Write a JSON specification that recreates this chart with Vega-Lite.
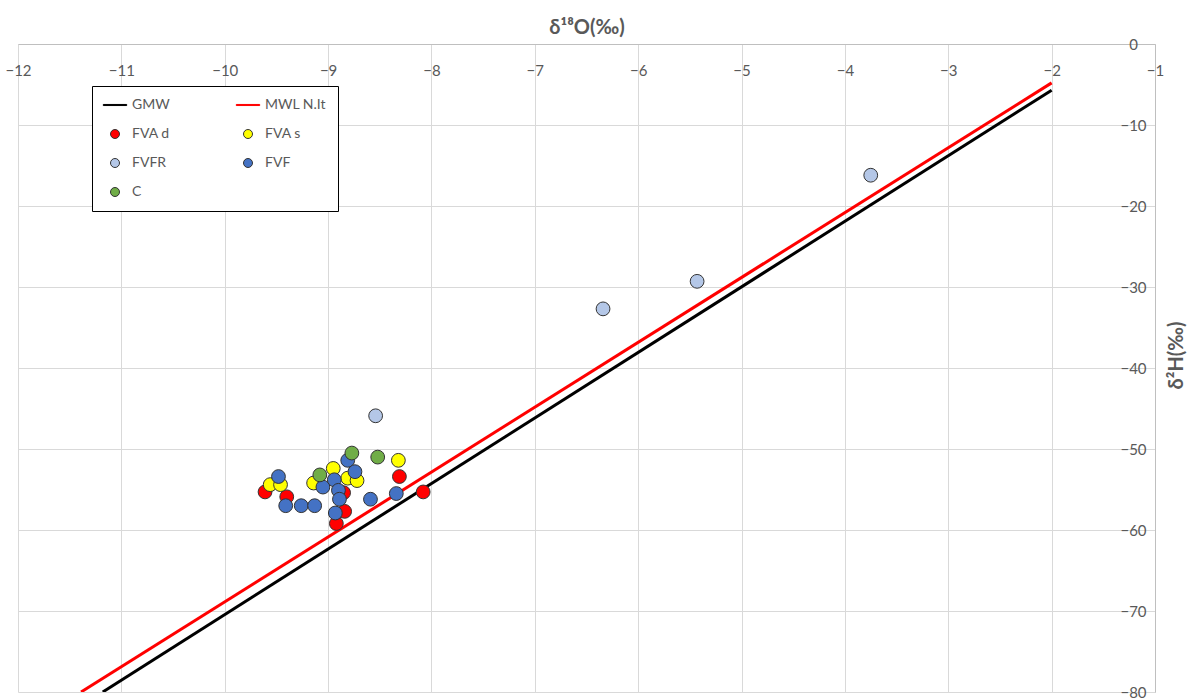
{
  "$schema": "https://vega.github.io/schema/vega-lite/v6.json",
  "width": 1137,
  "height": 648,
  "autosize": {"type": "none"},
  "padding": {"left": 18, "top": 44, "right": 33, "bottom": 7},
  "background": "white",
  "config": {
    "view": {"stroke": null},
    "font": "Lato",
    "axis": {
      "gridColor": "#D9D9D9",
      "gridWidth": 1,
      "domainColor": "#BFBFBF",
      "domainWidth": 1,
      "labelColor": "#595959",
      "labelFont": "Lato",
      "labelFontSize": 15,
      "titleColor": "#595959",
      "titleFont": "Lato",
      "titleFontSize": 20,
      "titleFontWeight": "bold",
      "ticks": false,
      "labelFlush": false,
      "labelOverlap": false
    },
    "legend": {
      "orient": "none",
      "legendX": 74,
      "legendY": 42,
      "direction": "horizontal",
      "columns": 2,
      "columnPadding": 64,
      "rowPadding": 15,
      "padding": 12,
      "fillColor": "white",
      "strokeColor": "#000000",
      "symbolSize": 81,
      "symbolStrokeWidth": 1,
      "symbolOffset": 4,
      "labelOffset": 10,
      "labelFont": "Lato",
      "labelFontSize": 14,
      "labelColor": "#595959"
    }
  },
  "resolve": {
    "scale": {"color": "shared", "shape": "shared", "stroke": "shared"},
    "legend": {"color": "independent", "shape": "independent", "stroke": "independent"}
  },
  "datasets": {
    "lines": [
      {"series": "GMW", "d18O": -11.18, "d2H": -80},
      {"series": "GMW", "d18O": -2, "d2H": -5.7},
      {"series": "MWL N.It", "d18O": -11.39, "d2H": -80},
      {"series": "MWL N.It", "d18O": -2, "d2H": -4.8}
    ],
    "points": [
      {"series": "FVA d", "d18O": -9.61, "d2H": -55.3},
      {"series": "FVA d", "d18O": -9.40, "d2H": -55.9},
      {"series": "FVA d", "d18O": -8.85, "d2H": -55.4},
      {"series": "FVA d", "d18O": -8.84, "d2H": -57.7},
      {"series": "FVA d", "d18O": -8.92, "d2H": -59.2},
      {"series": "FVA d", "d18O": -8.31, "d2H": -53.4},
      {"series": "FVA d", "d18O": -8.08, "d2H": -55.3},
      {"series": "FVA s", "d18O": -9.56, "d2H": -54.4},
      {"series": "FVA s", "d18O": -9.46, "d2H": -54.4},
      {"series": "FVA s", "d18O": -9.14, "d2H": -54.2},
      {"series": "FVA s", "d18O": -8.95, "d2H": -52.4},
      {"series": "FVA s", "d18O": -8.81, "d2H": -53.6},
      {"series": "FVA s", "d18O": -8.72, "d2H": -53.9},
      {"series": "FVA s", "d18O": -8.32, "d2H": -51.4},
      {"series": "FVFR", "d18O": -3.75, "d2H": -16.2},
      {"series": "FVFR", "d18O": -5.43, "d2H": -29.3},
      {"series": "FVFR", "d18O": -6.34, "d2H": -32.7},
      {"series": "FVFR", "d18O": -8.54, "d2H": -45.9},
      {"series": "FVF", "d18O": -9.48, "d2H": -53.4},
      {"series": "FVF", "d18O": -9.41, "d2H": -57.0},
      {"series": "FVF", "d18O": -9.26, "d2H": -57.0},
      {"series": "FVF", "d18O": -9.13, "d2H": -57.0},
      {"series": "FVF", "d18O": -9.05, "d2H": -54.7},
      {"series": "FVF", "d18O": -8.94, "d2H": -53.8},
      {"series": "FVF", "d18O": -8.90, "d2H": -55.1},
      {"series": "FVF", "d18O": -8.89, "d2H": -56.2},
      {"series": "FVF", "d18O": -8.93, "d2H": -57.9},
      {"series": "FVF", "d18O": -8.81, "d2H": -51.4},
      {"series": "FVF", "d18O": -8.74, "d2H": -52.8},
      {"series": "FVF", "d18O": -8.59, "d2H": -56.2},
      {"series": "FVF", "d18O": -8.34, "d2H": -55.5},
      {"series": "C", "d18O": -9.08, "d2H": -53.2},
      {"series": "C", "d18O": -8.77, "d2H": -50.5},
      {"series": "C", "d18O": -8.52, "d2H": -51.0}
    ]
  },
  "encoding": {
    "x": {
      "field": "d18O",
      "type": "quantitative",
      "scale": {"domain": [-12, -1], "nice": false, "zero": false},
      "axis": {
        "orient": "top",
        "values": [-12, -11, -10, -9, -8, -7, -6, -5, -4, -3, -2, -1],
        "format": "d",
        "labelBaseline": "top",
        "labelPadding": -19,
        "title": "δ¹⁸O(‰)",
        "titleY": -17,
        "titleBaseline": "middle"
      }
    },
    "y": {
      "field": "d2H",
      "type": "quantitative",
      "scale": {"domain": [-80, 0], "nice": false, "zero": false},
      "axis": {
        "orient": "right",
        "values": [0, -10, -20, -30, -40, -50, -60, -70, -80],
        "format": "d",
        "labelAlign": "center",
        "labelBaseline": "middle",
        "labelPadding": -22,
        "title": "δ²H(‰)",
        "titleAngle": 270,
        "titleX": 21,
        "titleY": 311,
        "titleAlign": "center",
        "titleBaseline": "middle"
      }
    }
  },
  "layer": [
    {
      "data": {"name": "lines"},
      "mark": {"type": "line", "strokeWidth": 3, "clip": true},
      "encoding": {
        "color": {
          "field": "series",
          "type": "nominal",
          "scale": {
            "domain": ["GMW", "MWL N.It", "FVA d", "FVA s", "FVFR", "FVF", "C"],
            "range": ["#000000", "#FF0000", "#FF0000", "#FFFF00", "#B4C7E7", "#4472C4", "#70AD47"]
          },
          "legend": null
        },
        "detail": {"field": "series"}
      }
    },
    {
      "data": {"name": "points"},
      "mark": {"type": "point", "filled": true, "size": 190, "strokeWidth": 1, "opacity": 1},
      "encoding": {
        "color": {
          "field": "series",
          "type": "nominal",
          "legend": {"title": null}
        },
        "shape": {
          "field": "series",
          "type": "nominal",
          "scale": {
            "domain": ["GMW", "MWL N.It", "FVA d", "FVA s", "FVFR", "FVF", "C"],
            "range": ["M-2.6,-0.12H2.6V0.12H-2.6Z", "M-2.6,-0.12H2.6V0.12H-2.6Z", "circle", "circle", "circle", "circle", "circle"]
          },
          "legend": {"title": null}
        },
        "stroke": {
          "field": "series",
          "type": "nominal",
          "scale": {
            "domain": ["GMW", "MWL N.It", "FVA d", "FVA s", "FVFR", "FVF", "C"],
            "range": ["#000000", "#FF0000", "#333333", "#333333", "#333333", "#333333", "#333333"]
          },
          "legend": {"title": null}
        }
      }
    }
  ]
}
